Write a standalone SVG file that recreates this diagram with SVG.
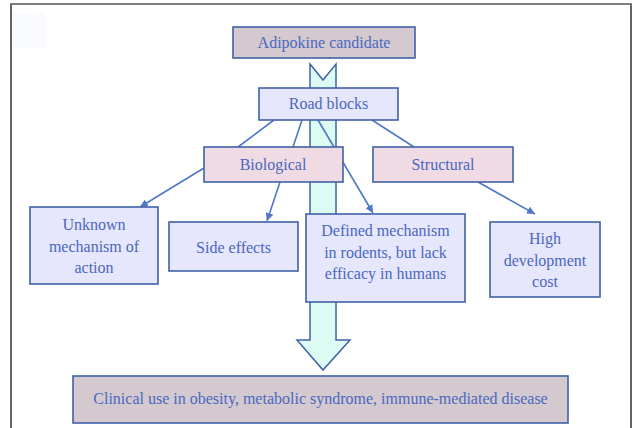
<svg xmlns="http://www.w3.org/2000/svg" width="632" height="428" viewBox="0 0 632 428">
<defs>
<style>
.box{stroke:#3f62a6;stroke-width:1.6}
.grey{fill:#d4c9cf}
.lav{fill:#e6e6fc}
.pink{fill:#f0dbe5}
.t{font-family:"Liberation Serif",serif;font-size:16px;fill:#4a68c0;text-anchor:middle}
.c{stroke:#4f78c6;stroke-width:1.6;fill:none}
</style>
<marker id="ah" viewBox="0 0 10 10" refX="10" refY="5" markerWidth="5" markerHeight="5" orient="auto" markerUnits="strokeWidth">
<path d="M0,0 L10,5 L0,10 z" fill="#4f78c6"/>
</marker>
</defs>
<rect width="632" height="428" fill="#ffffff"/>
<rect x="12" y="12" width="33" height="36" fill="#f9fbff"/>
<path d="M11,428 V4 H631 V428" fill="none" stroke="#333" stroke-width="1.5"/>
<line x1="11" y1="4" x2="631" y2="4" stroke="#888" stroke-width="1.5"/>

<g id="big-arrow">
<path d="M310,64 L323,80 L336,64 L336,340 L350,340 L323,370 L297,340 L310,340 Z" fill="#dcfcf3" stroke="#3f62a6" stroke-width="1.5"/>
</g>

<g id="connectors">
<line class="c" x1="274" y1="120" x2="238" y2="147"/>
<line class="c" x1="302" y1="120" x2="293" y2="147"/>
<line class="c" x1="318" y1="120" x2="373" y2="213" marker-end="url(#ah)"/>
<line class="c" x1="372" y1="120" x2="414" y2="147"/>
<line class="c" x1="204" y1="168" x2="140" y2="207" marker-end="url(#ah)"/>
<line class="c" x1="280" y1="182" x2="267" y2="221" marker-end="url(#ah)"/>
<line class="c" x1="478" y1="182" x2="535" y2="214" marker-end="url(#ah)"/>
</g>

<g id="adipokine">
<rect class="box grey" x="233" y="27" width="182" height="31"/>
<text class="t" x="324" y="48">Adipokine candidate</text>
</g>
<g id="roadblocks">
<rect class="box lav" x="259" y="88" width="139" height="32"/>
<text class="t" x="328.5" y="109">Road blocks</text>
</g>
<g id="biological">
<rect class="box pink" x="204" y="147" width="139" height="35"/>
<text class="t" x="273" y="170">Biological</text>
</g>
<g id="structural">
<rect class="box pink" x="373" y="147" width="140" height="35"/>
<text class="t" x="443" y="170">Structural</text>
</g>
<g id="unknown">
<rect class="box lav" x="30" y="207" width="128" height="77"/>
<text class="t" x="94" y="230">Unknown</text>
<text class="t" x="94" y="252">mechanism of</text>
<text class="t" x="94" y="273">action</text>
</g>
<g id="sideeffects">
<rect class="box lav" x="169" y="222" width="129" height="49"/>
<text class="t" x="233.5" y="253">Side effects</text>
</g>
<g id="defined">
<rect class="box lav" x="306" y="214" width="159" height="88"/>
<text class="t" x="385.5" y="236">Defined mechanism</text>
<text class="t" x="385.5" y="258">in rodents, but lack</text>
<text class="t" x="385.5" y="279">efficacy in humans</text>
</g>
<g id="highcost">
<rect class="box lav" x="490" y="222" width="110" height="75"/>
<text class="t" x="545" y="244">High</text>
<text class="t" x="545" y="266">development</text>
<text class="t" x="545" y="287">cost</text>
</g>
<g id="clinical">
<rect class="box grey" x="73" y="376" width="495" height="47"/>
<text class="t" x="320.5" y="404">Clinical use in obesity, metabolic syndrome, immune-mediated disease</text>
</g>
</svg>
